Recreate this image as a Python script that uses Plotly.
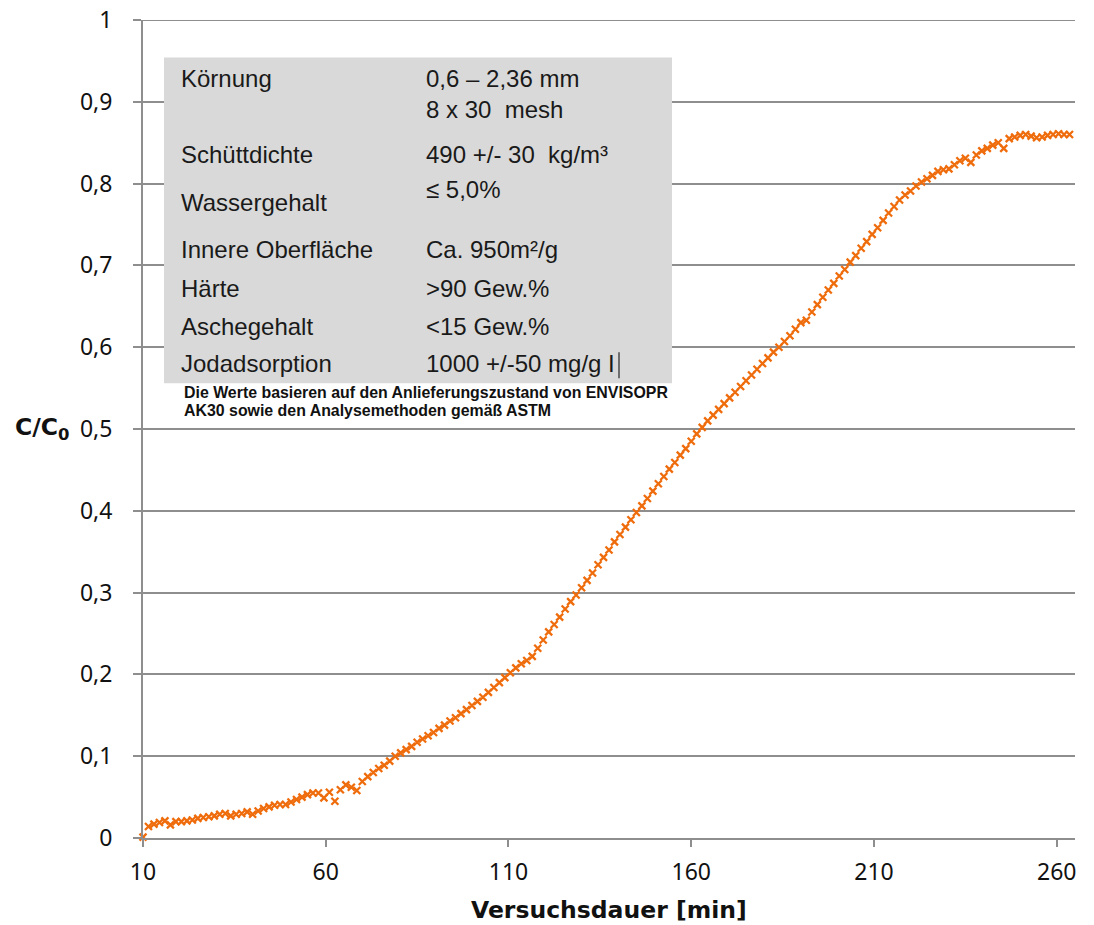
import plotly.graph_objects as go

# ---------------- data ----------------
time_step_min = 1.5
time_start_min = 10
c_c0 = [
    0.001, 0.014, 0.017, 0.019, 0.021, 0.016, 0.020, 0.020, 0.021, 0.022,   # 10 .. 23.5
    0.024, 0.025, 0.026, 0.027, 0.029, 0.030, 0.027, 0.029, 0.030, 0.032,   # 25 .. 38.5
    0.029, 0.033, 0.036, 0.038, 0.040, 0.041, 0.041, 0.044, 0.047, 0.050,   # 40 .. 53.5
    0.053, 0.055, 0.055, 0.049, 0.056, 0.045, 0.059, 0.065, 0.062, 0.058,   # 55 .. 68.5
    0.069, 0.075, 0.080, 0.085, 0.089, 0.094, 0.100, 0.104, 0.108, 0.112,   # 70 .. 83.5
    0.117, 0.121, 0.125, 0.129, 0.134, 0.138, 0.143, 0.147, 0.152, 0.157,   # 85 .. 98.5
    0.162, 0.167, 0.172, 0.178, 0.184, 0.190, 0.196, 0.202, 0.208, 0.213,   # 100 .. 113.5
    0.217, 0.222, 0.232, 0.242, 0.252, 0.261, 0.270, 0.280, 0.289, 0.297,   # 115 .. 128.5
    0.306, 0.315, 0.324, 0.334, 0.343, 0.352, 0.362, 0.371, 0.380, 0.389,   # 130 .. 143.5
    0.398, 0.406, 0.415, 0.424, 0.433, 0.442, 0.451, 0.459, 0.468, 0.476,   # 145 .. 158.5
    0.485, 0.494, 0.502, 0.510, 0.517, 0.524, 0.531, 0.538, 0.545, 0.552,   # 160 .. 173.5
    0.559, 0.566, 0.573, 0.580, 0.587, 0.594, 0.600, 0.607, 0.614, 0.622,   # 175 .. 188.5
    0.630, 0.633, 0.643, 0.652, 0.661, 0.670, 0.678, 0.687, 0.695, 0.704,   # 190 .. 203.5
    0.712, 0.721, 0.729, 0.738, 0.746, 0.755, 0.764, 0.772, 0.780, 0.786,   # 205 .. 218.5
    0.791, 0.797, 0.802, 0.806, 0.810, 0.815, 0.817, 0.818, 0.823, 0.828,   # 220 .. 233.5
    0.831, 0.826, 0.835, 0.840, 0.843, 0.847, 0.850, 0.843, 0.855, 0.857,   # 235 .. 248.5
    0.859, 0.860, 0.858, 0.856, 0.857, 0.859, 0.860, 0.861, 0.860, 0.860,   # 250 .. 263.5
]
time_min = [time_start_min + time_step_min * i for i in range(len(c_c0))]

x_tick_vals = [10, 60, 110, 160, 210, 260]
y_tick_vals = [0, 0.1, 0.2, 0.3, 0.4, 0.5, 0.6, 0.7, 0.8, 0.9, 1]
y_tick_text = ["0", "0,1", "0,2", "0,3", "0,4", "0,5", "0,6", "0,7", "0,8", "0,9", "1"]

spec_labels = ["Körnung", "Schüttdichte", "Wassergehalt", "Innere Oberfläche",
               "Härte", "Aschegehalt", "Jodadsorption"]
spec_values = ["0,6 – 2,36 mm<br>8 x 30  mesh", "490 +/- 30  kg/m³", "≤ 5,0%",
               "Ca. 950m²/g", ">90 Gew.%", "<15 Gew.%", "1000 +/-50 mg/g I"]
note_lines = ["Die Werte basieren auf den Anlieferungszustand von ENVISOPR",
              "AK30 sowie den Analysemethoden gemäß ASTM"]

# ---------------- layout geometry ----------------
W, H = 1094, 925
L, R, T, B = 143, 1075, 19.5, 838
GRID = "#8e8e8e"
ORANGE = "#EF6C0C"


def px(xp):
    return (xp - L) / (R - L)


def py(yp):
    return (B - yp) / (B - T)


fig = go.Figure()
fig.add_trace(go.Scatter(
    x=time_min, y=c_c0, mode="markers", cliponaxis=False,
    marker=dict(symbol="x-thin", size=7, color=ORANGE,
                line=dict(color=ORANGE, width=2.3)),
    showlegend=False, hoverinfo="x+y",
))

shapes = [
    # top gridline at 1
    dict(type="line", xref="paper", yref="y", x0=0, x1=1, y0=1, y1=1,
         line=dict(color=GRID, width=2), layer="below"),
    dict(type="rect", xref="paper", yref="paper",
         x0=px(164), x1=px(672), y0=py(383), y1=py(57),
         fillcolor="#d9d9d9", line=dict(width=0), layer="above"),
    dict(type="line", xref="paper", yref="paper",
         x0=px(619), x1=px(619), y0=py(378), y1=py(352),
         line=dict(color="#333333", width=1.3), layer="above"),
]

TXT_FONT = dict(family="Liberation Sans, Arial, sans-serif", size=24, color="#1a1a1a")
annotations = []
label_y = [77.7, 154.3, 201.7, 249, 287.7, 325.7, 363.3]
value_y = [93.5, 154.3, 189, 249, 287.7, 325.7, 363.3]
for lab, ly in zip(spec_labels, label_y):
    annotations.append(dict(xref="paper", yref="paper", x=px(179), y=py(ly),
                            text=lab, showarrow=False, xanchor="left", yanchor="middle",
                            font=TXT_FONT))
for val, vy in zip(spec_values, value_y):
    annotations.append(dict(xref="paper", yref="paper", x=px(424), y=py(vy),
                            text=val, showarrow=False, xanchor="left", yanchor="middle",
                            align="left", font=TXT_FONT))
for line, ny in zip(note_lines, [392, 410]):
    annotations.append(dict(xref="paper", yref="paper", x=px(182), y=py(ny),
                            text="<b>" + line + "</b>", showarrow=False,
                            xanchor="left", yanchor="middle",
                            font=dict(family="Liberation Sans, Arial, sans-serif",
                                      size=15.9, color="#111111")))

AX_FONT = dict(family="Noto Sans, Open Sans, sans-serif", size=23, color="#111111")
TITLE_FONT = dict(family="DejaVu Sans, Noto Sans, sans-serif", size=23.5, color="#111111")
annotations.append(dict(xref="paper", yref="paper", x=px(609), y=py(910),
                        text="<b>Versuchsdauer [min]</b>", showarrow=False,
                        xanchor="center", yanchor="middle", font=TITLE_FONT))
annotations.append(dict(xref="paper", yref="paper", x=px(13), y=py(428),
                        text="<b>C/C<sub>0</sub></b>", showarrow=False,
                        xanchor="left", yanchor="middle", font=TITLE_FONT))

fig.update_layout(
    width=W, height=H,
    margin=dict(l=L, r=W - R, t=T, b=H - B, pad=0, autoexpand=False),
    paper_bgcolor="white", plot_bgcolor="white",
    shapes=shapes, annotations=annotations,
    font=AX_FONT,
    xaxis=dict(range=[10, 265], tickvals=x_tick_vals, showgrid=False, zeroline=False,
               showline=True, linecolor=GRID, linewidth=2, automargin=False,
               ticks="outside", ticklen=7, tickwidth=2, tickcolor=GRID,
               tickfont=AX_FONT, ticklabelstandoff=5, fixedrange=True),
    yaxis=dict(range=[0, 1], tickvals=y_tick_vals, ticktext=y_tick_text,
               showgrid=True, gridcolor=GRID, gridwidth=2, zeroline=False,
               showline=True, linecolor=GRID, linewidth=2, automargin=False,
               ticks="outside", ticklen=8, tickwidth=2, tickcolor=GRID,
               tickfont=AX_FONT, ticklabelstandoff=16, fixedrange=True),
)

fig.write_html("out.html", config={"displayModeBar": False},
               post_script="document.body.style.margin='0';")
